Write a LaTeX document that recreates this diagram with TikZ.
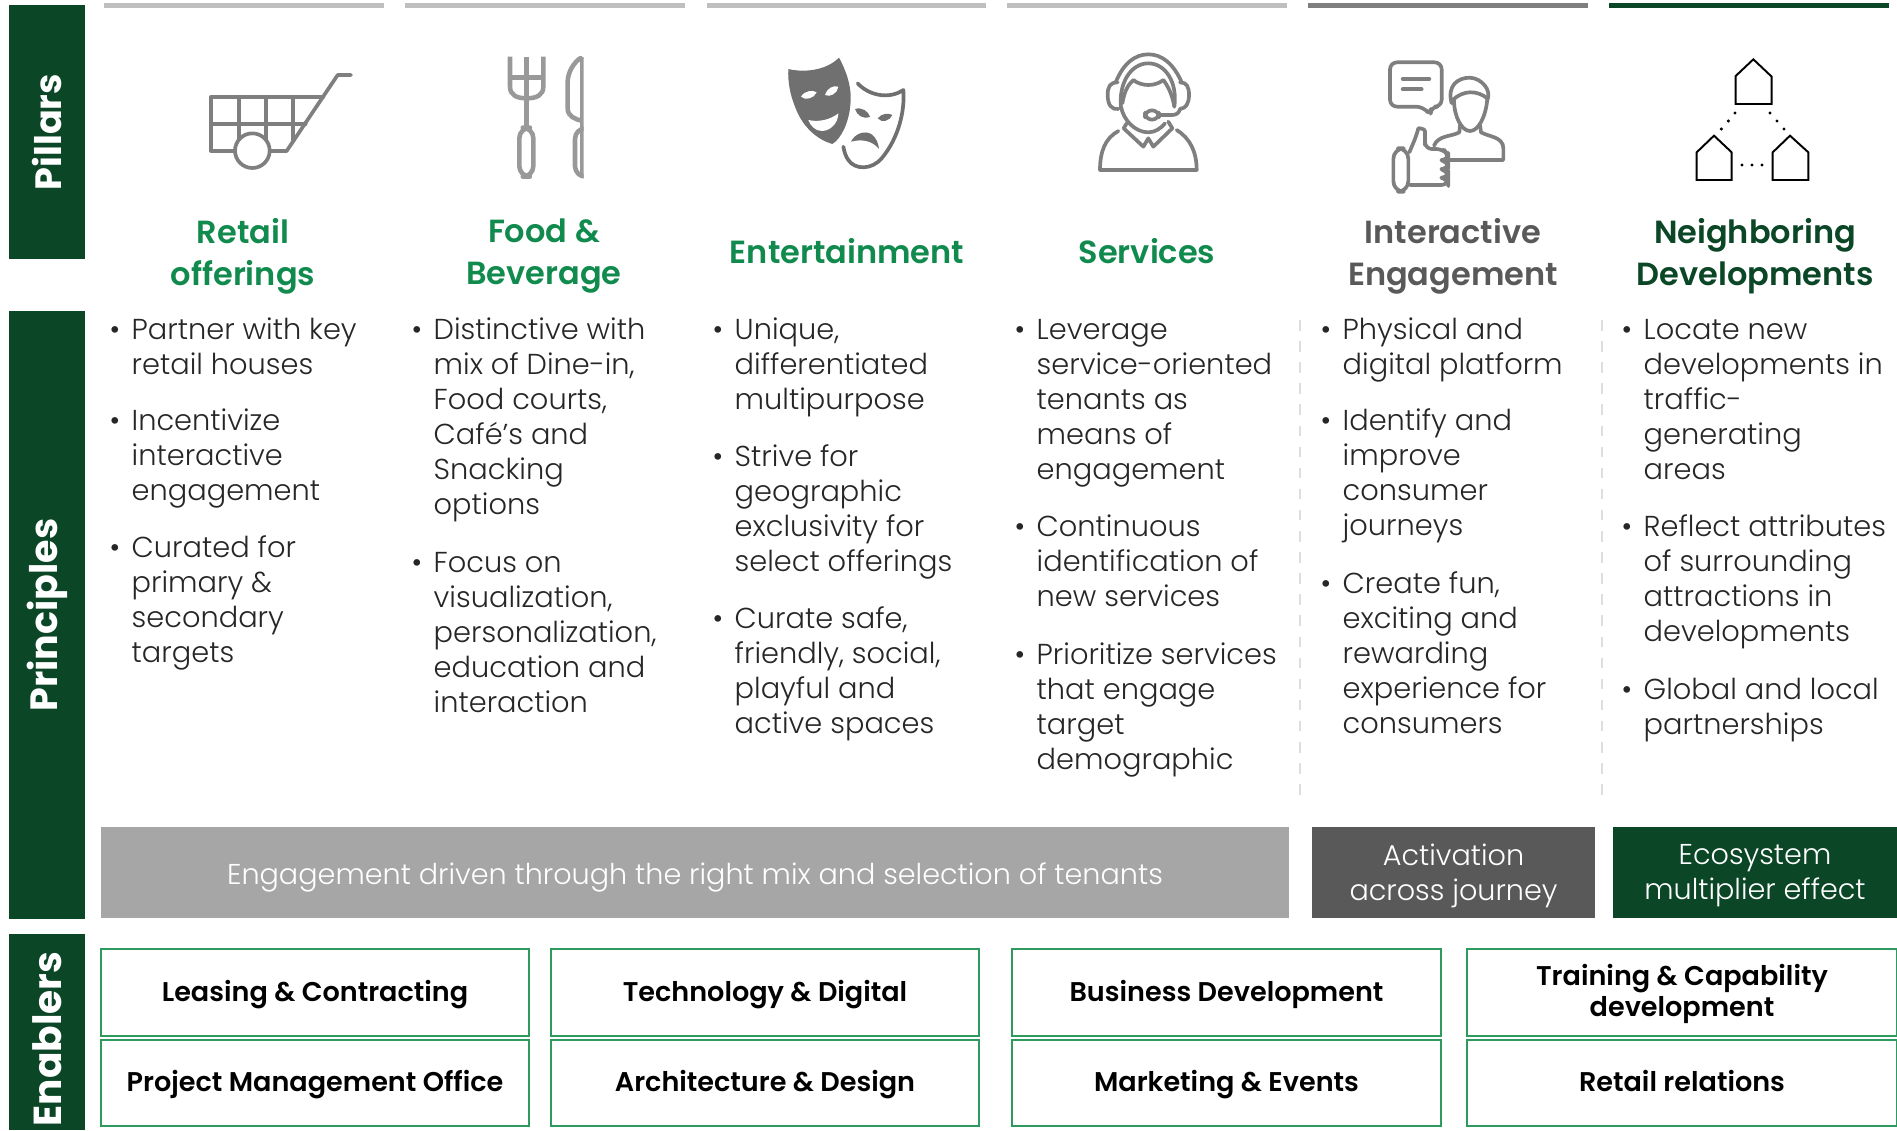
\documentclass[tikz,border=0pt]{standalone}
\usepackage{fontspec}
\setmainfont{Poppins}
\newfontfamily\lightfont{Poppins Light}
\newfontfamily\boldfont{Poppins SemiBold}
\definecolor{bardark}{RGB}{11,70,39}
\definecolor{headgreen}{RGB}{17,138,78}
\definecolor{headgray}{RGB}{89,89,89}
\definecolor{boxgreen}{RGB}{46,154,94}
\definecolor{bodyink}{RGB}{38,38,38}
\definecolor{topgray}{RGB}{191,191,191}
\definecolor{topdark}{RGB}{127,127,127}
\definecolor{bandgray}{RGB}{166,166,166}
\definecolor{icongray}{RGB}{127,127,127}
\definecolor{forkgray}{RGB}{153,153,153}
\definecolor{maskgray}{RGB}{112,112,112}
\newcommand{\bul}{\strut\llap{\textbullet\hspace{3.3pt}}}
\tikzset{
	sidelabel/.style={rotate=90,text=white,font=\bfseries\fontsize{10.8}{13}\selectfont},
	heading/.style={align=center,inner sep=0pt,font=\boldfont\fontsize{9.1}{12}\selectfont},
	pointtext/.style={anchor=north west,align=left,inner sep=0pt,yshift=4.2pt,text=bodyink,font=\lightfont\fontsize{8.2}{9.95}\selectfont},
	bandtext/.style={align=center,inner sep=0pt,yshift=-1.4pt,text=white,execute at begin node=\strut,font=\lightfont\fontsize{8.15}{10}\selectfont},
	enablerbox/.style={draw=boxgreen,line width=0.35pt},
	enablertext/.style={align=center,inner sep=0pt,yshift=-0.6pt,text=black,execute at begin node=\strut,font=\boldfont\fontsize{7.7}{7.6}\selectfont},
	sepline/.style={draw=black!13,dashed,line width=0.3pt},
	iconline/.style={draw=icongray,line width=1.05pt,line join=round,line cap=round},
	houseline/.style={draw=black,line width=0.55pt}
}
\begin{document}
\begin{tikzpicture}[x=0.01cm,y=-0.01cm]
	\useasboundingbox (0,0) rectangle (1897,1130);
	% Side bars
	\fill[bardark] (9,5) rectangle node[sidelabel,font=\bfseries\fontsize{10.4}{13}\selectfont] (pillars) {Pillars} (85,259);
	\fill[bardark] (9,311) rectangle node[sidelabel] (principles) {Principles} (85,919);
	\fill[bardark] (9,934) rectangle node[sidelabel,xshift=-2pt,font=\bfseries\fontsize{11.1}{13}\selectfont] (enablers) {Enablers} (85,1130);
	% Top rules
	\foreach \xa/\xb/\rulecolor in {104/384/topgray,405/685/topgray,707/986/topgray,1007/1287/topgray,1308/1588/topdark,1609/1889/bardark}
		\fill[\rulecolor] (\xa,3) rectangle (\xb,8);
	% Cart icon
	\begin{scope}[shift={(195,50)},scale=1/3]
		\draw[iconline] (48,303) -- (48,140) -- (385,140);
		\draw[iconline] (48,222) -- (332,222);
		\foreach \xv in {131,212,295} \draw[iconline] (\xv,140) -- (\xv,270);
		\draw[iconline] (48,303) -- (275,303) -- (428,75) -- (468,75);
		\draw[iconline,fill=white] (172,302) circle (52);
	\end{scope}
	% Fork and knife icon
	\begin{scope}[shift={(490,45)},scale=1/3]
		\begin{scope}[iconline,draw=forkgray,line width=1.3pt,line cap=butt]
			\draw (60,35) -- (60,125) .. controls (60,150) and (80,160) .. (110,160) .. controls (140,160) and (160,150) .. (160,125) -- (160,35);
			\draw (110,35) -- (110,245);
			\draw (60,97) -- (160,97);
			\draw[rounded corners=3pt] (88,248) rectangle (130,395);
			\clip (200,35) rectangle (281,405);
			\draw (277,36) .. controls (250,50) and (233,85) .. (233,110) -- (233,190) .. controls (233,215) and (255,222) .. (277,228);
			\draw (277,36) -- (277,400);
			\draw[rounded corners=3pt] (290,250) -- (255,250) -- (255,395) -- (290,395);
		\end{scope}
	\end{scope}
	% Masks icon
	\begin{scope}[shift={(775,45)},scale=1/3]
		\fill[maskgray] (40,72) .. controls (80,82) and (150,80) .. (192,38) .. controls (215,80) and (232,130) .. (226,180) .. controls (222,230) and (200,280) .. (172,297) .. controls (130,285) and (85,250) .. (62,190) .. controls (45,150) and (38,110) .. (40,72) -- cycle;
		\fill[white] (78,155) .. controls (90,135) and (115,135) .. (125,142) .. controls (118,160) and (90,168) .. (78,155) -- cycle;
		\fill[white] (150,150) .. controls (155,130) and (175,120) .. (190,125) .. controls (188,145) and (165,158) .. (150,150) -- cycle;
		\fill[white] (100,225) .. controls (130,232) and (165,225) .. (190,205) .. controls (190,235) and (165,258) .. (140,258) .. controls (120,258) and (105,240) .. (100,225) -- cycle;
		\draw[iconline,draw=maskgray] (248,115) .. controls (280,150) and (340,165) .. (385,135) .. controls (390,200) and (370,280) .. (320,340) .. controls (290,375) and (240,375) .. (220,345) .. controls (212,335) and (208,320) .. (205,305);
		\fill[maskgray] (240,192) .. controls (262,185) and (280,200) .. (285,215) .. controls (265,225) and (245,210) .. (240,192) -- cycle;
		\fill[maskgray] (308,220) .. controls (320,205) and (340,203) .. (352,210) .. controls (345,228) and (320,235) .. (308,220) -- cycle;
		\fill[maskgray] (228,290) .. controls (240,265) and (270,255) .. (290,268) .. controls (305,280) and (310,295) .. (312,312) .. controls (295,290) and (265,280) .. (228,290) -- cycle;
	\end{scope}
	% Headset icon
	\begin{scope}[shift={(1085,45)},scale=1/3]
		\draw[iconline] (92,112) .. controls (115,55) and (150,28) .. (190,28) .. controls (230,28) and (265,55) .. (290,112);
		\draw[iconline] (108,190) .. controls (100,110) and (140,55) .. (190,55) .. controls (240,55) and (278,110) .. (268,185);
		\draw[iconline] (98,112) .. controls (75,112) and (68,125) .. (68,150) .. controls (68,180) and (80,195) .. (100,192);
		\draw[iconline] (285,112) .. controls (305,112) and (312,125) .. (312,150) .. controls (312,175) and (303,190) .. (285,192);
		\draw[iconline] (112,175) .. controls (118,140) and (128,120) .. (145,105) .. controls (170,125) and (210,125) .. (235,105) .. controls (250,125) and (262,150) .. (268,185);
		\draw[iconline] (108,185) .. controls (115,225) and (150,262) .. (190,262) .. controls (210,262) and (228,250) .. (240,235);
		\draw[iconline,rounded corners=2pt] (180,196) rectangle (222,224);
		\draw[iconline] (222,210) -- (262,210) .. controls (275,210) and (283,202) .. (285,192);
		\draw[iconline] (125,235) -- (116,250) -- (175,305) -- (190,280) -- (205,305) -- (262,250) -- (250,230);
		\draw[iconline] (100,258) .. controls (60,280) and (45,320) .. (45,375) -- (335,375) .. controls (335,320) and (315,280) .. (275,255);
	\end{scope}
	% Engagement icon
	\begin{scope}[shift={(1380,45)},scale=1/3]
		\draw[iconline,rounded corners=2pt] (130,185) -- (30,185) -- (30,52) -- (185,52) -- (185,185) -- (152,185) -- (152,213) -- cycle;
		\draw[iconline] (68,102) -- (148,102);
		\draw[iconline] (68,133) -- (125,133);
		\draw[iconline] (215,175) .. controls (200,120) and (235,98) .. (270,98) .. controls (305,100) and (335,135) .. (322,165);
		\draw[iconline] (218,165) .. controls (250,135) and (290,135) .. (322,160);
		\draw[iconline] (222,165) .. controls (222,215) and (245,258) .. (270,258) .. controls (295,258) and (318,215) .. (322,160);
		\draw[iconline] (240,240) -- (238,262) .. controls (215,275) and (175,270) .. (162,302);
		\draw[iconline] (300,240) -- (303,262) .. controls (325,275) and (370,275) .. (370,310) -- (370,345) -- (205,345);
		\draw[iconline,rounded corners=3pt] (40,310) rectangle (85,440);
		\draw[iconline,rounded corners=2pt] (88,322) -- (110,270) .. controls (115,250) and (135,250) .. (135,280) -- (135,312) -- (190,312) -- (205,330) -- (205,345) -- (178,345) -- (205,350) -- (205,372) -- (178,372) -- (205,378) -- (205,398) -- (178,398) -- (205,402) -- (205,420) -- (90,420);
	\end{scope}
	% Houses icon
	\begin{scope}[shift={(1680,50)},scale=1/3]
		\draw[houseline] (220,28) -- (275,80) -- (275,162) -- (167,162) -- (167,78) -- cycle;
		\draw[houseline] (102,257) -- (155,307) -- (155,390) -- (50,390) -- (50,307) -- cycle;
		\draw[houseline] (330,257) -- (385,307) -- (385,390) -- (278,390) -- (278,307) -- cycle;
		\foreach \dx/\dy in {165/189,145/213,124/237,270/189,291/213,312/237,186/345,216/345,246/345}
			\fill (\dx,\dy) circle (5);
	\end{scope}
	% Headings
	\node[heading,text=headgreen] (retail) at (243,256) {Retail\\offerings};
	\node[heading,text=headgreen] (food) at (544,256) {Food \&\\Beverage};
	\node[heading,text=headgreen] (entertainment) at (847,251) {Entertainment};
	\node[heading,text=headgreen] (services) at (1147,251) {Services};
	\node[heading,text=headgray] (interactive) at (1453,256) {Interactive\\Engagement};
	\node[heading,text=bardark] (neighboring) at (1755,256) {Neighboring\\Developments};
	% Retail points
	\node[pointtext] (retailA) at (131,329) {\bul Partner with key\\retail houses};
	\node[pointtext] (retailB) at (131,420) {\bul Incentivize\\interactive\\engagement};
	\node[pointtext] (retailC) at (131,547) {\bul Curated for\\primary \&\\secondary\\targets};
	% Food points
	\node[pointtext] (foodA) at (433,329) {\bul Distinctive with\\mix of Dine-in,\\Food courts,\\Café’s and\\Snacking\\options};
	\node[pointtext] (foodB) at (433,562) {\bul Focus on\\visualization,\\personalization,\\education and\\interaction};
	% Entertainment points
	\node[pointtext] (entertainA) at (734,329) {\bul Unique,\\differentiated\\multipurpose};
	\node[pointtext] (entertainB) at (734,456) {\bul Strive for\\geographic\\exclusivity for\\select offerings};
	\node[pointtext] (entertainC) at (734,618) {\bul Curate safe,\\friendly, social,\\playful and\\active spaces};
	% Services points
	\node[pointtext] (servicesA) at (1036,329) {\bul Leverage\\service-oriented\\tenants as\\means of\\engagement};
	\node[pointtext] (servicesB) at (1036,526) {\bul Continuous\\identification of\\new services};
	\node[pointtext] (servicesC) at (1036,654) {\bul Prioritize services\\that engage\\target\\demographic};
	% Interactive points
	\node[pointtext] (interactA) at (1342,329) {\bul Physical and\\digital platform};
	\node[pointtext] (interactB) at (1342,420) {\bul Identify and\\improve\\consumer\\journeys};
	\node[pointtext] (interactC) at (1342,583) {\bul Create fun,\\exciting and\\rewarding\\experience for\\consumers};
	% Neighboring points
	\node[pointtext] (neighborA) at (1643,329) {\bul Locate new\\developments in\\traffic-\\generating\\areas};
	\node[pointtext] (neighborB) at (1643,526) {\bul Reflect attributes\\of surrounding\\attractions in\\developments};
	\node[pointtext] (neighborC) at (1643,689) {\bul Global and local\\partnerships};
	% Dashed separators
	\draw[sepline] (1300,320) -- (1300,799);
	\draw[sepline] (1602,320) -- (1602,799);
	% Bands
	\fill[bandgray] (101,827) rectangle node[bandtext] (bandmix) {Engagement driven through the right mix and selection of tenants} (1289,918);
	\fill[headgray] (1312,827) rectangle node[bandtext] (bandjourney) {Activation\\across journey} (1595,918);
	\fill[bardark] (1613,827) rectangle node[bandtext] (bandeco) {Ecosystem\\multiplier effect} (1897,918);
	% Enabler boxes
	\draw[enablerbox] (101,949) rectangle node[enablertext] (leasing) {Leasing \& Contracting} (529,1036);
	\draw[enablerbox] (551,949) rectangle node[enablertext] (technology) {Technology \& Digital} (979,1036);
	\draw[enablerbox] (1012,949) rectangle node[enablertext] (business) {Business Development} (1441,1036);
	\draw[enablerbox] (1467,949) rectangle node[enablertext] (training) {Training \& Capability\\development} (1897,1036);
	\draw[enablerbox] (101,1040) rectangle node[enablertext] (project) {Project Management Office} (529,1126);
	\draw[enablerbox] (551,1040) rectangle node[enablertext] (architecture) {Architecture \& Design} (979,1126);
	\draw[enablerbox] (1012,1040) rectangle node[enablertext] (marketing) {Marketing \& Events} (1441,1126);
	\draw[enablerbox] (1467,1040) rectangle node[enablertext] (retailrel) {Retail relations} (1897,1126);
\end{tikzpicture}
\end{document}
